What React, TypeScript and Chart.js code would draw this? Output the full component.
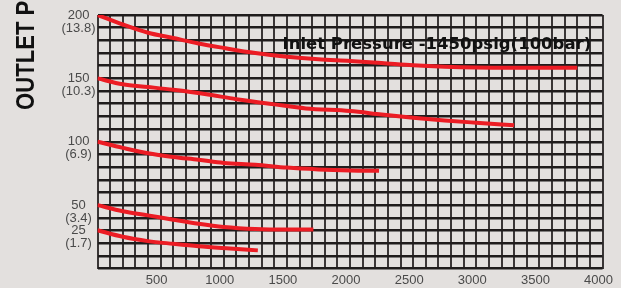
import React, { useEffect, useRef } from 'react';
import { Chart, registerables } from 'chart.js';

Chart.register(...registerables);

// ---- data ----
const xMin = 0;
const xMax = 4000;
const xStep = 100;
const yMin = 0;
const yMax = 200;
const yStep = 10;

const xLabelValues = [500, 1000, 1500, 2000, 2500, 3000, 3500, 4000];
const yLabelValues = [200, 150, 100, 50, 30];
const yLabelTexts = [
  ['200', '(13.8)'],
  ['150', '(10.3)'],
  ['100', '(6.9)'],
  ['50', '(3.4)'],
  ['25', '(1.7)'],
];

const axisTitle = 'OUTLET PRESSURE psig(bar)';
const chartTitle = 'Inlet Pressure -1450psig(100bar)';

const curve200X = [0, 200, 400, 600, 800, 1000, 1250, 1500, 1750, 2000, 2250, 2500, 2750, 3000, 3300, 3800];
const curve200Y = [200, 192.5, 186, 181.8, 177.5, 174, 170, 167, 165, 163.8, 162.2, 160.4, 159.2, 158.5, 158.3, 158.3];

const curve150X = [0, 200, 400, 600, 850, 1100, 1400, 1650, 2000, 2250, 2500, 2750, 3000, 3300];
const curve150Y = [150, 145.3, 143.2, 141, 137.7, 133.6, 129.5, 126.3, 124.2, 121.5, 119, 116.8, 115, 113];

const curve100X = [0, 200, 400, 600, 800, 1000, 1250, 1500, 1750, 2000, 2230];
const curve100Y = [100, 95.2, 90.9, 88, 85.8, 83.3, 81.9, 79.6, 78.2, 77.4, 77.1];

const curve50X = [0, 200, 400, 600, 800, 1000, 1250, 1500, 1710];
const curve50Y = [50, 45.2, 41.9, 38.5, 35.3, 32.8, 31.2, 30.8, 30.8];

const curve25X = [0, 200, 400, 600, 800, 1050, 1270];
const curve25Y = [30.2, 25, 21.6, 19.5, 17.6, 15.8, 14.3];

const curves = [
  { name: '200', xs: curve200X, ys: curve200Y },
  { name: '150', xs: curve150X, ys: curve150Y },
  { name: '100', xs: curve100X, ys: curve100Y },
  { name: '50', xs: curve50X, ys: curve50Y },
  { name: '25', xs: curve25X, ys: curve25Y },
];

// ---- styles ----
const BG = '#e3e0de';
const RED = '#ec1c24';
const H_GRID = '#1f1c1c';
const V_GRID = '#3a3636';
const TICK_COLOR = '#4a4a4a';

const decorPlugin = {
  id: 'decor',
  beforeDraw(chart: any) {
    const ctx = chart.ctx;
    ctx.save();
    ctx.fillStyle = BG;
    ctx.fillRect(0, 0, chart.width, chart.height);
    ctx.restore();
  },
  afterDraw(chart: any) {
    const ctx = chart.ctx;
    const a = chart.chartArea;
    ctx.save();
    ctx.fillStyle = '#111111';
    ctx.font = 'bold 16.5px "DejaVu Sans", sans-serif';
    ctx.textAlign = 'left';
    ctx.textBaseline = 'alphabetic';
    ctx.fillText(chartTitle, a.left + 185, a.top + 34);
    ctx.restore();

    ctx.save();
    ctx.fillStyle = '#111111';
    ctx.translate(34.3, 110);
    ctx.rotate(-Math.PI / 2);
    ctx.scale(0.85, 1);
    ctx.font = 'bold 26px "Liberation Sans", Arial, sans-serif';
    ctx.textAlign = 'left';
    ctx.textBaseline = 'alphabetic';
    ctx.fillText(axisTitle, 0, 0);
    ctx.restore();
  },
};

export default function App() {
  const ref = useRef<HTMLCanvasElement | null>(null);

  useEffect(() => {
    if (!ref.current) return;
    const chart = new Chart(ref.current, {
      type: 'line',
      data: {
        datasets: curves.map((c) => ({
          label: c.name,
          data: c.xs.map((x, i) => ({ x, y: c.ys[i] })),
          borderColor: RED,
          borderWidth: 4,
          pointRadius: 0,
          fill: false,
          cubicInterpolationMode: 'monotone' as const,
        })),
      },
      options: {
        animation: false,
        responsive: false,
        parsing: false as any,
        layout: { padding: { top: 15, right: 16, left: 0, bottom: 0 } },
        plugins: {
          legend: { display: false },
          tooltip: { enabled: false },
          title: { display: false },
        },
        scales: {
          x: {
            type: 'linear',
            min: xMin,
            max: xMax,
            border: { display: false },
            grid: { color: V_GRID, lineWidth: 2, drawTicks: false },
            afterFit: (s: any) => { s.height = 19.5; },
            ticks: {
              stepSize: xStep,
              autoSkip: false,
              maxRotation: 0,
              minRotation: 0,
              padding: 4,
              labelOffset: -4,
              color: TICK_COLOR,
              font: { family: '"Liberation Sans", Arial, sans-serif', size: 13 },
              callback: (v: any) => (xLabelValues.includes(Number(v)) ? String(v) : ''),
            },
          },
          y: {
            type: 'linear',
            min: yMin,
            max: yMax,
            border: { display: false },
            grid: { color: H_GRID, lineWidth: 2.5, drawTicks: false },
            afterFit: (s: any) => { s.width = 97.5; },
            ticks: {
              stepSize: yStep,
              autoSkip: false,
              padding: 2,
              crossAlign: 'center',
              labelOffset: 6.5,
              color: TICK_COLOR,
              font: { family: '"Liberation Sans", Arial, sans-serif', size: 13, lineHeight: 1 },
              callback: (v: any) => {
                const i = yLabelValues.indexOf(Number(v));
                return i >= 0 ? yLabelTexts[i] : '';
              },
            },
          },
        },
      },
      plugins: [decorPlugin],
    });
    return () => chart.destroy();
  }, []);

  return (
    <div style={{ position: 'fixed', left: 0, top: 0, width: 621, height: 288, background: BG }}>
      <canvas ref={ref} width={621} height={288} style={{ display: 'block' }} />
    </div>
  );
}
